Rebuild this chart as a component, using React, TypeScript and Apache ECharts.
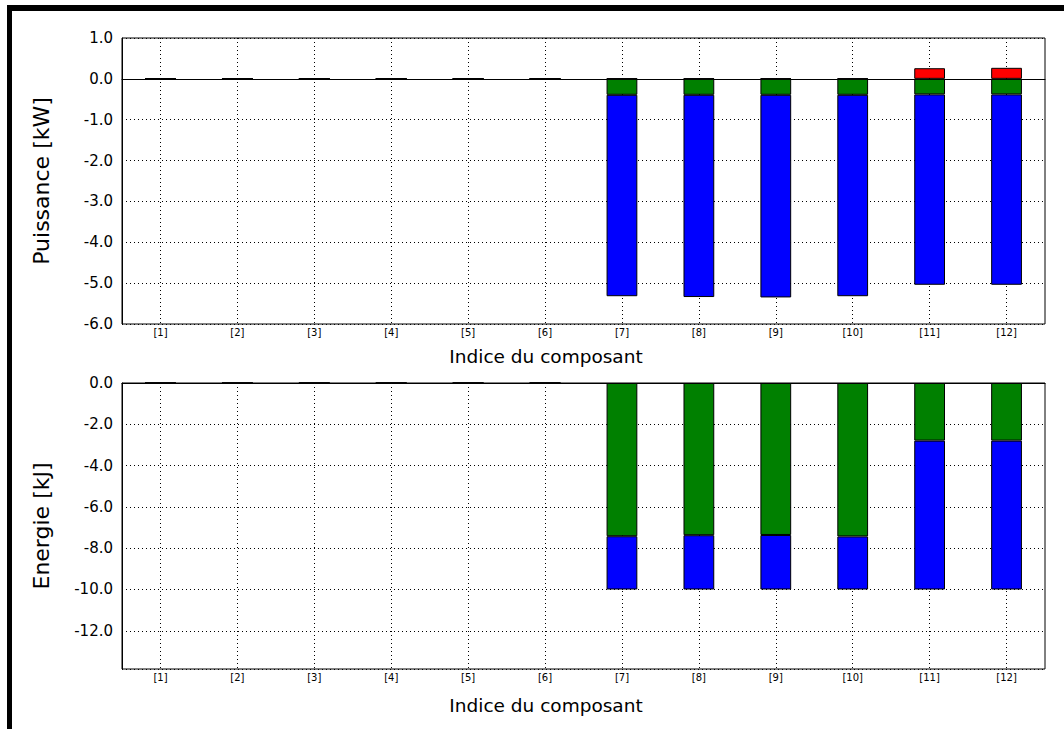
import React, { useEffect, useRef } from "react";
import * as echarts from "echarts";

const categories = ["[1]", "[2]", "[3]", "[4]", "[5]", "[6]", "[7]", "[8]", "[9]", "[10]", "[11]", "[12]"];

// Puissance [kW]
const powerGreen = [0, 0, 0, 0, 0, 0, -0.39, -0.39, -0.39, -0.39, -0.38, -0.38];
const powerBlue = [0, 0, 0, 0, 0, 0, -4.93, -4.95, -4.96, -4.93, -4.66, -4.66];
const powerRed = [0, 0, 0, 0, 0, 0, 0.01, 0.01, 0.01, 0.01, 0.26, 0.27];

// Energie [kJ]
const energyGreen = [0, 0, 0, 0, 0, 0, -7.42, -7.37, -7.36, -7.43, -2.79, -2.79];
const energyBlue = [0, 0, 0, 0, 0, 0, -2.58, -2.63, -2.64, -2.57, -7.21, -7.21];

const powerRange = { min: -6, max: 1, interval: 1 };
const energyRange = { min: -13.85, max: 0, splitNumber: 7 };

const FONT = "DejaVu Sans";
const GREEN = "#008000";
const BLUE = "#0000ff";
const RED = "#ff0000";

export default function App() {
  const ref = useRef<HTMLDivElement>(null);

  useEffect(() => {
    if (!ref.current) return;
    const chart = echarts.init(ref.current, undefined, { renderer: "svg" });

    const gridLine = { show: true, lineStyle: { color: "#000", type: [1, 3] as any, width: 1 } };

    const xAxisBase = (gridIndex: number) => ({
      type: "category" as const,
      gridIndex,
      data: categories,
      boundaryGap: true,
      axisLine: { show: true, lineStyle: { color: "#000", width: 1 } },
      axisTick: { show: false },
      axisLabel: { color: "#000", fontFamily: FONT, fontSize: 10, margin: 3 },
      splitLine: { ...gridLine, alignWithLabel: true },
    });

    const yAxisBase = (gridIndex: number, name: string, range: any) => ({
      type: "value" as const,
      gridIndex,
      ...range,
      name,
      nameLocation: "middle" as const,
      nameGap: 70,
      nameTextStyle: { color: "#000", fontFamily: FONT, fontSize: 22 },
      axisLine: { show: true, lineStyle: { color: "#000", width: 1 } },
      axisTick: { show: false },
      axisLabel: {
        color: "#000",
        fontFamily: FONT,
        fontSize: 15,
        margin: 9,
        formatter: (v: number) => (Math.abs(v - Math.round(v)) > 1e-6 ? "" : v.toFixed(1)),
      },
      splitLine: gridLine,
    });

    const barBase = (name: string, data: number[], color: string, idx: number, stack: string) => ({
      type: "bar" as const,
      name,
      data,
      xAxisIndex: idx,
      yAxisIndex: idx,
      stack,
      barWidth: "40%",
      itemStyle: { color, borderColor: "#000", borderWidth: 1 },
      z: 3,
    });

    chart.setOption({
      animation: false,
      backgroundColor: "#fff",
      textStyle: { fontFamily: FONT },
      grid: [
        { left: 122, top: 38, width: 923, height: 286, show: true, borderColor: "#000", borderWidth: 1, backgroundColor: "transparent" },
        { left: 122, top: 383, width: 923, height: 286, show: true, borderColor: "#000", borderWidth: 1, backgroundColor: "transparent" },
      ],
      xAxis: [xAxisBase(0), xAxisBase(1)],
      yAxis: [yAxisBase(0, "Puissance [kW]", powerRange), yAxisBase(1, "Energie [kJ]", energyRange)],
      series: [
        barBase("P vert", powerGreen, GREEN, 0, "p"),
        barBase("P bleu", powerBlue, BLUE, 0, "p"),
        barBase("P rouge", powerRed, RED, 0, "p"),
        barBase("E vert", energyGreen, GREEN, 1, "e"),
        barBase("E bleu", energyBlue, BLUE, 1, "e"),
      ],
      graphic: [
        { type: "rect", shape: { x: 7, y: 5, width: 1057, height: 6 }, style: { fill: "#000" }, silent: true },
        { type: "rect", shape: { x: 7, y: 5, width: 5, height: 724 }, style: { fill: "#000" }, silent: true },
        {
          type: "text",
          x: 546,
          y: 356,
          style: { text: "Indice du composant", fill: "#000", font: `18.5px "${FONT}"`, align: "center", verticalAlign: "middle" },
        },
        {
          type: "text",
          x: 546,
          y: 705,
          style: { text: "Indice du composant", fill: "#000", font: `18.5px "${FONT}"`, align: "center", verticalAlign: "middle" },
        },
      ],
    });

    return () => chart.dispose();
  }, []);

  return (
    <div
      ref={ref}
      style={{ position: "fixed", left: 0, top: 0, width: 1064, height: 729, background: "#fff" }}
    />
  );
}
